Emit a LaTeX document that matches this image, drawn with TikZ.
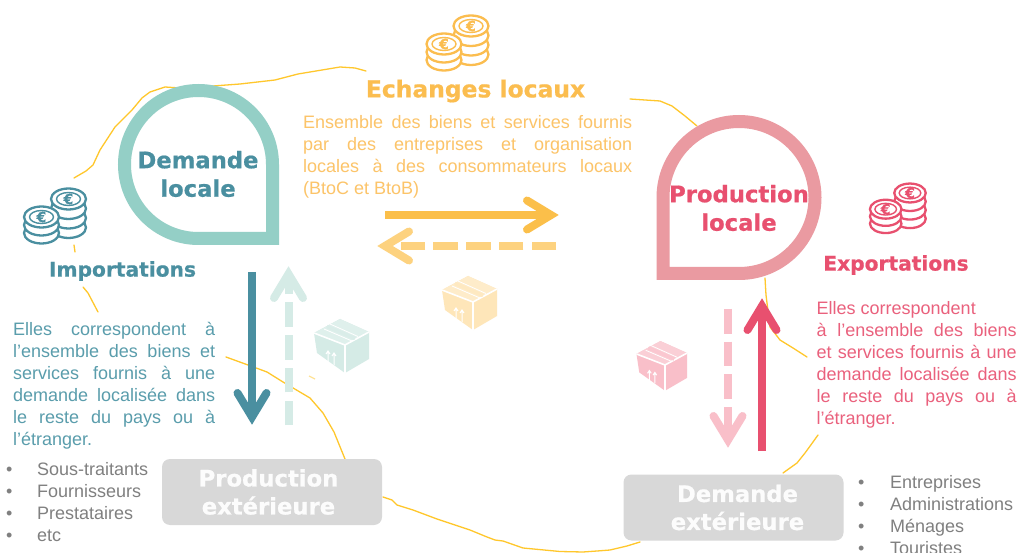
\documentclass[tikz,border=0pt]{standalone}
\usepackage{fontspec}
\setmainfont{Liberation Sans}
\newfontfamily\hdfont[BoldFont={DejaVu Sans Bold},BoldFeatures={FakeBold=0.7}]{DejaVu Sans}
\usetikzlibrary{calc}
\definecolor{tealdark}{HTML}{4A8FA0}
\definecolor{tealtext}{HTML}{5A9DAC}
\definecolor{tealring}{HTML}{94CFC6}
\definecolor{teallight}{HTML}{D5EBE6}
\definecolor{pinkdark}{HTML}{E8506F}
\definecolor{pinkring}{HTML}{EA9AA1}
\definecolor{pinklight}{HTML}{F9BFC9}
\definecolor{yelsolid}{HTML}{FBBF4A}
\definecolor{yeldash}{HTML}{FDD27F}
\definecolor{yeltext}{HTML}{FCC469}
\definecolor{yelhead}{HTML}{FBBD4F}
\definecolor{scribble}{HTML}{FFC72C}
\definecolor{greybox}{HTML}{D8D8D8}
\definecolor{greytext}{HTML}{808080}
\tikzset{
  ring/.style={line width=13pt,miter limit=10,fill=white},
  scrib/.style={draw=scribble,line width=1.3pt,line join=round,line cap=round},
  shaft/.style={line width=8pt},
  dashshaft/.style={line width=8pt,dash pattern=on 24.5pt off 8.2pt},
  heading/.style={font=\hdfont\bfseries\fontsize{22.7}{28.5}\selectfont,align=center,inner sep=0pt},
  sidehead/.style={font=\hdfont\bfseries\fontsize{20.2}{24}\selectfont,inner sep=0pt},
  body/.style={font=\fontsize{18}{22}\selectfont,align=justify,inner sep=0pt,anchor=north west},
  listing/.style={font=\fontsize{18}{22}\selectfont,align=left,inner sep=0pt,anchor=north west,text=greytext},
  greyblock/.style={fill=greybox,rounded corners=8pt,minimum width=220pt,minimum height=66pt,inner sep=0pt,
    font=\hdfont\bfseries\fontsize{22.7}{28}\selectfont,align=center,text=white!93!greybox},
  pics/chev/.style={code={
    \draw[line width=8pt,line cap=round,miter limit=10,pic actions] (-24,-14.5)--(0,0)--(-24,14.5);}},
  pics/coins/.style={code={
    \foreach \d in {28.5,19,9.5,0}{
      \draw[draw=#1,line width=2.3pt,fill=white] (0,\d) ellipse [x radius=17.5,y radius=10.5];}
    \draw[draw=#1,line width=1.4pt] (0,0) ellipse [x radius=12,y radius=6.5];
    \node[text=#1,font=\hdfont\bfseries\fontsize{14}{14}\selectfont,inner sep=0pt] (-euroR) at (0,0) {€};
    \foreach \d in {16,8,0}{
      \draw[draw=#1,line width=2.3pt,fill=white] (-27,18+\d) ellipse [x radius=17.5,y radius=10.5];}
    \draw[draw=#1,line width=1.4pt] (-27,18) ellipse [x radius=12,y radius=6.5];
    \node[text=#1,font=\hdfont\bfseries\fontsize{14}{14}\selectfont,inner sep=0pt] (-euroL) at (-27,18) {€};
  }},
  pics/parcel/.style={code={
    \fill[#1] (-5,-26)--(24,-13)--(24,14)--(0,28)--(-28,8)--(-31,-12)--cycle;
    \fill[#1!75!white] (-5,-26)--(24,-13)--(0,0)--(-31,-12)--cycle;
    \draw[white,line width=1.6pt] (-31,-12)--(0,0)--(24,-13) (0,0)--(0,28);
    \draw[#1!88!white,line width=3.5pt] (-18,-18.5)--(10,-6.5);
    \draw[white,line width=.8pt] (-15,-21)--(13,-8.5) (-21,-16)--(7,-4);
    \draw[white,line width=1pt] (-17,6)--(-17,18) (-11,8)--(-11,20)
      (-19,9)--(-17,6)--(-15,9) (-13,11)--(-11,8)--(-9,11);
  }},
}
\begin{document}
\begin{tikzpicture}[x=1pt,y=-1pt]
\useasboundingbox (0,0) rectangle (1020,553);
\fill[white] (0,0) rectangle (1020,553);

% hand-drawn yellow line
\draw[scrib] (74,178)--(86,171)--(93,165)--(100,150)--(115,127)--(132,110)--(142,98)--(150,92)--(165,87)--(180,88)--(213,86)--(240,84)--(275,80)--(298,74)--(340,67)--(355,68)--(366,71);
\draw[scrib] (630,99)--(660,101)--(672,106)--(685,116)--(697,126);
\draw[scrib] (765,278)--(766,295)--(770,327)--(780,340)--(793,348)--(807,357);
\draw[scrib] (818,435)--(813,442)--(805,453)--(797,463)--(783,473);
\draw[scrib] (640,542)--(627,546)--(610,550)--(597,551)--(583,552)--(560,551.5)--(523,548)--(503,541)--(495,540)--(487,537)--(470,530)--(437,519)--(413,510)--(397,505)--(392,500)--(383,497);
\draw[scrib] (345,459)--(334,432)--(323,413)--(310,398)--(283,382)--(267,372)--(248,365)--(226,357);
\draw[scrib] (98,312)--(88,293)--(83,287);
\draw[scrib] (74,245)--(75,252);
\draw[draw=scribble!50!white,line width=1.2pt] (309,376)--(315,379);

% teardrops
\draw[ring,draw=tealring] (272.5,238.5)--(198.5,238.5) arc[start angle=90,end angle=360,radius=74] --cycle;
\draw[ring,draw=pinkring] (663,273.5)--(739,273.5) arc[start angle=90,end angle=-180,radius=76] --cycle;
\node[heading,text=tealdark] (demloc) at (198,174) {Demande\\locale};
\node[heading,text=pinkdark] (prodloc) at (739,208) {Production\\locale};

% coins
\pic (cT) at (68.5,199) {coins=tealdark};
\pic (cY) at (471,26) {coins=yelhead};
\pic[scale=.9] (cP) at (910,193) {coins=pinkdark};

% headings
\node[sidehead,text=tealdark] (imp) at (122.5,271) {Importations};
\node[sidehead,text=pinkdark] (exp) at (896,265) {Exportations};
\node[font=\hdfont\bfseries\fontsize{23.4}{28}\selectfont,text=yelhead,inner sep=0pt] (ech) at (475.5,91) {Echanges locaux};

% body text
\node[body,text width=329pt,text=yeltext] (txtY) at (303,115) {Ensemble des biens et services fournis\linebreak par des entreprises et organisation\linebreak locales à des consommateurs locaux\linebreak (BtoC et BtoB)};
\node[body,text width=202pt,text=tealtext] (txtT) at (13,322) {Elles correspondent à\linebreak l’ensemble des biens et\linebreak services fournis à une\linebreak demande localisée dans\linebreak le reste du pays ou à\linebreak l’étranger.};
\node[body,text width=200pt,text=pinkdark!90!white] (txtP) at (816.5,301) {Elles correspondent\\à l’ensemble des biens\linebreak et services fournis à une\linebreak demande localisée dans\linebreak le reste du pays ou à\linebreak l’étranger.};

% lists
\node[listing] (listL) at (6,462) {\makebox[31pt][l]{•}Sous-traitants\\\makebox[31pt][l]{•}Fournisseurs\\\makebox[31pt][l]{•}Prestataires\\\makebox[31pt][l]{•}etc};
\node[listing] (listR) at (858,475) {\makebox[32pt][l]{•}Entreprises\\\makebox[32pt][l]{•}Administrations\\\makebox[32pt][l]{•}Ménages\\\makebox[32pt][l]{•}Touristes};

% grey blocks
\node[greyblock] (prodext) at (272,492) {\hspace*{-7pt}Production\\\hspace*{-7pt}extérieure};
\node[greyblock] (demext) at (733.5,507.5) {\hspace*{8pt}Demande\\\hspace*{8pt}extérieure};

% parcels
\pic (pkY) at (473,302) {parcel=yeldash!55!white};
\pic (pkT) at (345,345) {parcel=teallight};
\pic[scale=.92] (pkP) at (665,365) {parcel=pinklight};

% arrow end points
\coordinate (yA) at (385,215);  \coordinate (yB) at (552,215);
\coordinate (ydA) at (556,246); \coordinate (ydB) at (385,246);
\coordinate (tA) at (252,272);  \coordinate (tB) at (252,417);
\coordinate (tdA) at (288.5,425); \coordinate (tdB) at (288.5,275);
\coordinate (pA) at (762,451);  \coordinate (pB) at (762,307);
\coordinate (pdA) at (728,309); \coordinate (pdB) at (728,440);

% arrows
\draw[shaft,draw=yelsolid] (yA)--(yB);
\pic[draw=yelsolid] at (551,215) {chev};
\draw[dashshaft,draw=yeldash] (ydA)--(ydB);
\pic[draw=yeldash,rotate=180] at (385,246) {chev};
\draw[shaft,draw=tealdark] (tA)--(tB);
\pic[draw=tealdark,rotate=-90] at (tB) {chev};
\draw[dashshaft,draw=teallight] (tdA)--(tdB);
\pic[draw=teallight,rotate=90] at (288.5,274) {chev};
\draw[shaft,draw=pinkdark] (pA)--(pB);
\pic[draw=pinkdark,rotate=90] at (762,306) {chev};
\draw[dashshaft,draw=pinklight] (pdA)--(pdB);
\pic[draw=pinklight,rotate=-90] at (728,440) {chev};
\end{tikzpicture}
\end{document}
